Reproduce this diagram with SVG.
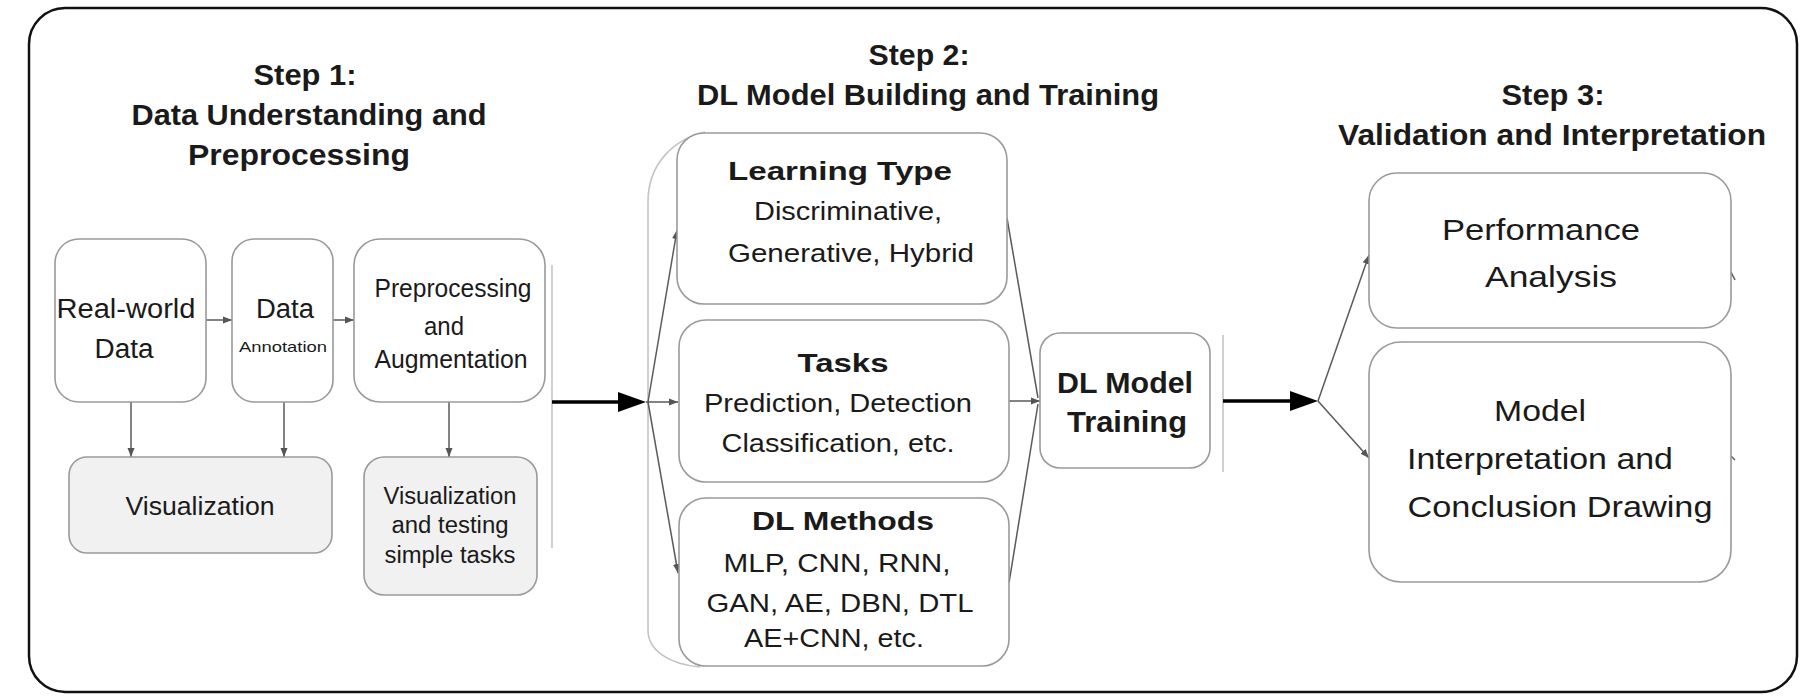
<svg xmlns="http://www.w3.org/2000/svg" width="1808" height="700" viewBox="0 0 1808 700">
<style>
text{font-family:"Liberation Sans",Arial,sans-serif;fill:#1a1a1a;text-anchor:middle}
.title{font-weight:bold;font-size:30px}
.b{font-weight:bold}
.box{fill:#fff;stroke:#9a9a9a;stroke-width:1.6}
.gbox{fill:#f1f1f1;stroke:#9a9a9a;stroke-width:1.6}
.thin{stroke:#5a5a5a;stroke-width:1.5;fill:none}
.sep{stroke:#c4c4c4;stroke-width:1.6;fill:none}
.thick{stroke:#000;stroke-width:3.5;fill:none}
</style>
<defs>
<marker id="ah" markerUnits="userSpaceOnUse" markerWidth="10" markerHeight="8" refX="9" refY="4" orient="auto">
<path d="M0,0.5 L9,4 L0,7.5 z" fill="#555"/>
</marker>
</defs>
<rect x="29" y="8" width="1768" height="684" rx="36" ry="36" fill="#fff" stroke="#111" stroke-width="2.5"/>

<g id="titles">
<text class="title" x="305" y="85" textLength="103" lengthAdjust="spacingAndGlyphs">Step 1:</text>
<text class="title" x="309" y="125" textLength="355" lengthAdjust="spacingAndGlyphs">Data Understanding and</text>
<text class="title" x="299" y="165" textLength="222" lengthAdjust="spacingAndGlyphs">Preprocessing</text>
<text class="title" x="919" y="65" textLength="101" lengthAdjust="spacingAndGlyphs">Step 2:</text>
<text class="title" x="928" y="105" textLength="462" lengthAdjust="spacingAndGlyphs">DL Model Building and Training</text>
<text class="title" x="1553" y="105" textLength="103" lengthAdjust="spacingAndGlyphs">Step 3:</text>
<text class="title" x="1552" y="145" textLength="428" lengthAdjust="spacingAndGlyphs">Validation and Interpretation</text>
</g>

<g id="connectors">
<path class="sep" d="M552,265 V548"/>
<path class="sep" d="M1223,335 V472"/>
<path class="sep" d="M705,132 C672,140 648,165 648,202 L648,630 C648,650 668,664 700,667"/>
<line class="thin" x1="206" y1="320" x2="232" y2="320" marker-end="url(#ah)"/>
<line class="thin" x1="333" y1="320" x2="354" y2="320" marker-end="url(#ah)"/>
<line class="thin" x1="131" y1="402" x2="131" y2="457" marker-end="url(#ah)"/>
<line class="thin" x1="284" y1="402" x2="284" y2="457" marker-end="url(#ah)"/>
<line class="thin" x1="449" y1="402" x2="449" y2="457" marker-end="url(#ah)"/>
<line class="thick" x1="552" y1="402" x2="622" y2="402"/>
<polygon points="618,392 646,402 618,412" fill="#000"/>
<line class="thin" x1="648" y1="402" x2="677" y2="230" marker-end="url(#ah)"/>
<line class="thin" x1="646" y1="402" x2="678" y2="402" marker-end="url(#ah)"/>
<line class="thin" x1="648" y1="402" x2="678" y2="573" marker-end="url(#ah)"/>
<line class="thin" x1="1007" y1="218" x2="1038" y2="398"/>
<line class="thin" x1="1009" y1="583" x2="1038" y2="404"/>
<line class="thin" x1="1009" y1="401" x2="1040" y2="401" marker-end="url(#ah)"/>
<line class="thick" x1="1223" y1="401" x2="1294" y2="401"/>
<polygon points="1290,391 1318,401 1290,411" fill="#000"/>
<line class="thin" x1="1318" y1="401" x2="1369" y2="255" marker-end="url(#ah)"/>
<line class="thin" x1="1318" y1="401" x2="1369" y2="458" marker-end="url(#ah)"/>
<line class="thin" x1="1731" y1="272" x2="1735" y2="280"/>
<line class="thin" x1="1731" y1="456" x2="1735" y2="460"/>
</g>

<g id="real-world-data">
<rect class="box" x="55" y="239" width="151" height="163" rx="24"/>
<text x="126" y="318" font-size="27" textLength="139" lengthAdjust="spacingAndGlyphs">Real-world</text>
<text x="124" y="358" font-size="27" textLength="59" lengthAdjust="spacingAndGlyphs">Data</text>
</g>
<g id="data-annotation">
<rect class="box" x="232" y="239" width="101" height="163" rx="22"/>
<text x="285" y="318" font-size="27" textLength="58" lengthAdjust="spacingAndGlyphs">Data</text>
<text x="283" y="352" font-size="15" textLength="88" lengthAdjust="spacingAndGlyphs">Annotation</text>
</g>
<g id="preprocessing">
<rect class="box" x="354" y="239" width="191" height="163" rx="26"/>
<text x="453" y="297" font-size="25" textLength="157" lengthAdjust="spacingAndGlyphs">Preprocessing</text>
<text x="444" y="335" font-size="25" textLength="40" lengthAdjust="spacingAndGlyphs">and</text>
<text x="451" y="368" font-size="25" textLength="153" lengthAdjust="spacingAndGlyphs">Augmentation</text>
</g>
<g id="visualization">
<rect class="gbox" x="69" y="457" width="263" height="96" rx="18"/>
<text x="200" y="515" font-size="25" textLength="149" lengthAdjust="spacingAndGlyphs">Visualization</text>
</g>
<g id="visualization-testing">
<rect class="gbox" x="364" y="457" width="173" height="138" rx="20"/>
<text x="450" y="504" font-size="23" textLength="133" lengthAdjust="spacingAndGlyphs">Visualization</text>
<text x="450" y="533" font-size="23" textLength="117" lengthAdjust="spacingAndGlyphs">and testing</text>
<text x="450" y="563" font-size="23" textLength="131" lengthAdjust="spacingAndGlyphs">simple tasks</text>
</g>

<g id="learning-type">
<rect class="box" x="677" y="133" width="330" height="171" rx="27"/>
<text class="b" x="840" y="180" font-size="26" textLength="224" lengthAdjust="spacingAndGlyphs">Learning Type</text>
<text x="848" y="220" font-size="26" textLength="188" lengthAdjust="spacingAndGlyphs">Discriminative,</text>
<text x="851" y="262" font-size="26" textLength="246" lengthAdjust="spacingAndGlyphs">Generative, Hybrid</text>
</g>
<g id="tasks">
<rect class="box" x="679" y="320" width="330" height="162" rx="27"/>
<text class="b" x="843" y="372" font-size="26" textLength="91" lengthAdjust="spacingAndGlyphs">Tasks</text>
<text x="838" y="412" font-size="26" textLength="268" lengthAdjust="spacingAndGlyphs">Prediction, Detection</text>
<text x="838" y="452" font-size="26" textLength="233" lengthAdjust="spacingAndGlyphs">Classification, etc.</text>
</g>
<g id="dl-methods">
<rect class="box" x="679" y="498" width="330" height="168" rx="27"/>
<text class="b" x="843" y="530" font-size="26" textLength="182" lengthAdjust="spacingAndGlyphs">DL Methods</text>
<text x="837" y="572" font-size="26" textLength="227" lengthAdjust="spacingAndGlyphs">MLP, CNN, RNN,</text>
<text x="840" y="612" font-size="26" textLength="267" lengthAdjust="spacingAndGlyphs">GAN, AE, DBN, DTL</text>
<text x="834" y="647" font-size="26" textLength="180" lengthAdjust="spacingAndGlyphs">AE+CNN, etc.</text>
</g>
<g id="dl-model-training">
<rect class="box" x="1040" y="333" width="170" height="135" rx="20"/>
<text class="b" x="1125" y="393" font-size="30" textLength="136" lengthAdjust="spacingAndGlyphs">DL Model</text>
<text class="b" x="1127" y="432" font-size="30" textLength="120" lengthAdjust="spacingAndGlyphs">Training</text>
</g>

<g id="performance-analysis">
<rect class="box" x="1369" y="173" width="362" height="155" rx="28"/>
<text x="1541" y="240" font-size="30" textLength="198" lengthAdjust="spacingAndGlyphs">Performance</text>
<text x="1551" y="287" font-size="30" textLength="132" lengthAdjust="spacingAndGlyphs">Analysis</text>
</g>
<g id="model-interpretation">
<rect class="box" x="1369" y="342" width="362" height="240" rx="32"/>
<text x="1540" y="421" font-size="30" textLength="92" lengthAdjust="spacingAndGlyphs">Model</text>
<text x="1540" y="469" font-size="30" textLength="266" lengthAdjust="spacingAndGlyphs">Interpretation and</text>
<text x="1560" y="517" font-size="30" textLength="305" lengthAdjust="spacingAndGlyphs">Conclusion Drawing</text>
</g>
</svg>
